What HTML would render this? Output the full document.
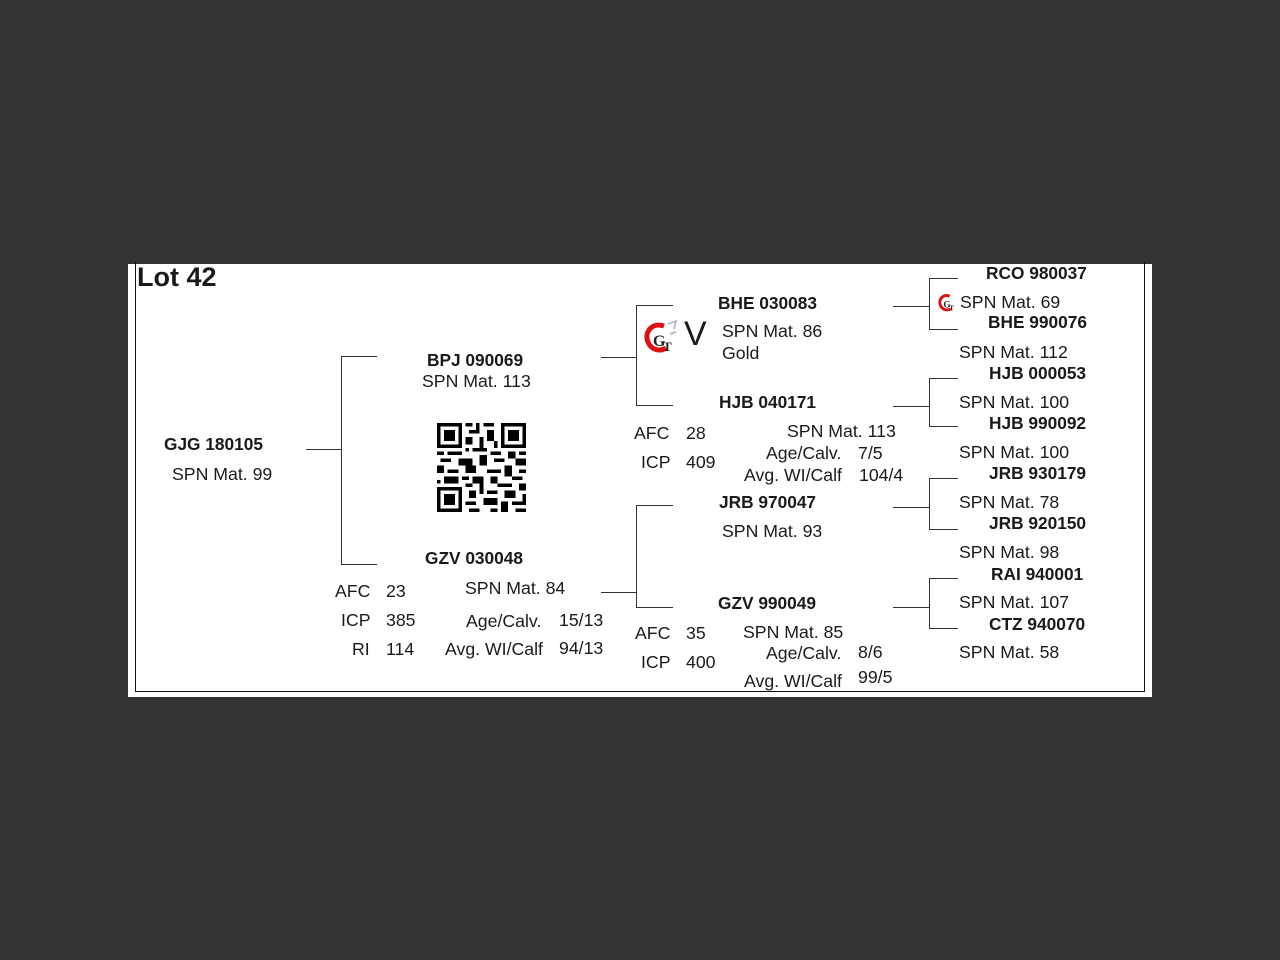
<!DOCTYPE html>
<html><head><meta charset="utf-8"><style>
body{margin:0;width:1280px;height:960px;background:#333;position:relative;overflow:hidden;font-family:"Liberation Sans",Arial,sans-serif;color:#1a1a1a}
#panel{position:absolute;left:128px;top:264px;width:1024px;height:433px;background:#fff}
#frame{position:absolute;left:135px;top:262px;width:1008px;height:429px;border:1px solid #111;border-top:none}
.t{position:absolute;font-size:17.7px;line-height:22px;white-space:nowrap;margin-top:0px}
.b{font-weight:bold;font-size:17.3px}
.h{position:absolute;height:1px;background:#333}
.v{position:absolute;width:1px;background:#333}
</style></head><body>
<div id="panel"></div><div id="frame"></div>
<div class="t b" style="left:137px;top:262px;font-size:27px;line-height:30px">Lot 42</div>

<div class="h" style="left:306px;top:449px;width:35px"></div>
<div class="v" style="left:341px;top:356px;height:208px"></div>
<div class="h" style="left:341px;top:356px;width:36px"></div>
<div class="h" style="left:341px;top:564px;width:36px"></div>

<div class="h" style="left:601px;top:357px;width:35px"></div>
<div class="v" style="left:636px;top:305px;height:100px"></div>
<div class="h" style="left:636px;top:305px;width:37px"></div>
<div class="h" style="left:636px;top:405px;width:37px"></div>

<div class="h" style="left:601px;top:592px;width:35px"></div>
<div class="v" style="left:636px;top:505px;height:102px"></div>
<div class="h" style="left:636px;top:505px;width:37px"></div>
<div class="h" style="left:636px;top:607px;width:37px"></div>

<div class="h" style="left:893px;top:306px;width:36px"></div>
<div class="v" style="left:929px;top:278px;height:51px"></div>
<div class="h" style="left:929px;top:278px;width:29px"></div>
<div class="h" style="left:929px;top:329px;width:29px"></div>

<div class="h" style="left:893px;top:406px;width:36px"></div>
<div class="v" style="left:929px;top:378px;height:48px"></div>
<div class="h" style="left:929px;top:378px;width:29px"></div>
<div class="h" style="left:929px;top:426px;width:29px"></div>

<div class="h" style="left:893px;top:507px;width:36px"></div>
<div class="v" style="left:929px;top:478px;height:51px"></div>
<div class="h" style="left:929px;top:478px;width:29px"></div>
<div class="h" style="left:929px;top:529px;width:29px"></div>

<div class="h" style="left:893px;top:607px;width:36px"></div>
<div class="v" style="left:929px;top:578px;height:50px"></div>
<div class="h" style="left:929px;top:578px;width:29px"></div>
<div class="h" style="left:929px;top:628px;width:29px"></div>

<div class="t b" style="left:164px;top:433px">GJG 180105</div>
<div class="t" style="left:172px;top:463px">SPN Mat. 99</div>

<div class="t b" style="left:427px;top:349px">BPJ 090069</div>
<div class="t" style="left:422px;top:370px">SPN Mat. 113</div>
<svg style="position:absolute;left:437px;top:423px" width="89" height="89" viewBox="0 0 25 25" shape-rendering="crispEdges">
<g fill="#000"><path d="M0 0h7v7h-7zM18 0h7v7h-7zM0 18h7v7h-7z"/></g>
<g fill="#fff"><path d="M1 1h5v5h-5zM19 1h5v5h-5zM1 19h5v5h-5z"/></g>
<g fill="#000"><path d="M2 2h3v3h-3zM20 2h3v3h-3zM2 20h3v3h-3z"/>
<path d="M8 0h2v1h-2zM11 0h1v2h-1zM13 0h3v1h-3zM9 2h3v1h-3zM14 2h2v3h-2zM8 4h2v2h-2zM12 4h1v3h-1zM16 5h1v2h-1zM8 7h1v1h-1zM10 7h4v1h-4z
M0 8h2v1h-2zM3 8h4v1h-4zM15 8h3v1h-3zM20 8h2v2h-2zM23 8h2v1h-2zM1 10h3v1h-3zM6 10h4v2h-4zM12 9h2v3h-2zM16 10h3v1h-3zM22 10h3v2h-3z
M0 12h2v2h-2zM3 13h3v1h-3zM8 12h3v2h-3zM14 13h4v1h-4zM19 12h2v3h-2zM23 13h2v1h-2zM2 15h4v2h-4zM7 15h2v1h-2zM10 15h3v2h-3zM15 15h2v2h-2zM21 15h3v1h-3z
M0 16h1v1h-1zM8 17h2v1h-2zM12 17h1v3h-1zM17 17h4v1h-4zM23 17h2v2h-2zM9 19h2v2h-2zM14 19h3v1h-3zM19 19h3v2h-3zM8 22h3v1h-3zM13 21h4v2h-4zM18 22h2v3h-2zM21 22h4v1h-4zM9 24h3v1h-3zM15 24h2v1h-2zM22 24h3v1h-3zM24 20h1v2h-1z"/></g>
</svg>
<div class="t b" style="left:425px;top:547px">GZV 030048</div>
<div class="t" style="left:465px;top:577px">SPN Mat. 84</div>
<div class="t" style="left:335px;top:580px">AFC</div><div class="t" style="left:386px;top:580px">23</div>
<div class="t" style="left:341px;top:609px">ICP</div><div class="t" style="left:386px;top:609px">385</div>
<div class="t" style="left:352px;top:638px">RI</div><div class="t" style="left:386px;top:638px">114</div>
<div class="t" style="left:466px;top:610px">Age/Calv.</div><div class="t" style="left:559px;top:609px">15/13</div>
<div class="t" style="left:445px;top:638px">Avg. WI/Calf</div><div class="t" style="left:559px;top:637px">94/13</div>

<svg style="position:absolute;left:642px;top:320px" width="38" height="36" viewBox="0 0 38 36">
<path d="M22 6 C10 2 2 12 6 22 C9 30 18 32 24 28" fill="none" stroke="#d11" stroke-width="5"/>
<path d="M26 4 l8 -3 l-2 8 M28 14 l6 -2" stroke="#bbc" stroke-width="2" fill="none"/>
<text x="11" y="26" font-family="Liberation Serif,serif" font-size="16" font-weight="bold" fill="#222">G</text>
<text x="21" y="31" font-family="Liberation Serif,serif" font-size="13" font-weight="bold" fill="#222">T</text>
</svg>
<div class="t" style="left:684px;top:316px;font-size:34px;line-height:36px">V</div>
<div class="t b" style="left:718px;top:292px">BHE 030083</div>
<div class="t" style="left:722px;top:320px">SPN Mat. 86</div>
<div class="t" style="left:722px;top:342px">Gold</div>

<div class="t b" style="left:719px;top:391px">HJB 040171</div>
<div class="t" style="left:634px;top:422px">AFC</div><div class="t" style="left:686px;top:422px">28</div>
<div class="t" style="left:641px;top:451px">ICP</div><div class="t" style="left:686px;top:451px">409</div>
<div class="t" style="left:787px;top:420px">SPN Mat. 113</div>
<div class="t" style="left:766px;top:442px">Age/Calv.</div><div class="t" style="left:858px;top:442px">7/5</div>
<div class="t" style="left:744px;top:464px">Avg. WI/Calf</div><div class="t" style="left:859px;top:464px">104/4</div>

<div class="t b" style="left:719px;top:491px">JRB 970047</div>
<div class="t" style="left:722px;top:520px">SPN Mat. 93</div>

<div class="t b" style="left:718px;top:592px">GZV 990049</div>
<div class="t" style="left:635px;top:622px">AFC</div><div class="t" style="left:686px;top:622px">35</div>
<div class="t" style="left:641px;top:651px">ICP</div><div class="t" style="left:686px;top:651px">400</div>
<div class="t" style="left:743px;top:621px">SPN Mat. 85</div>
<div class="t" style="left:766px;top:642px">Age/Calv.</div><div class="t" style="left:858px;top:641px">8/6</div>
<div class="t" style="left:744px;top:670px">Avg. WI/Calf</div><div class="t" style="left:858px;top:666px">99/5</div>

<svg style="position:absolute;left:937px;top:292px" width="22" height="22" viewBox="0 0 38 36">
<path d="M22 6 C10 2 2 12 6 22 C9 30 18 32 24 28" fill="none" stroke="#d11" stroke-width="5"/>
<text x="11" y="26" font-family="Liberation Serif,serif" font-size="16" font-weight="bold" fill="#222">G</text>
<text x="21" y="31" font-family="Liberation Serif,serif" font-size="13" font-weight="bold" fill="#222">T</text>
</svg>
<div class="t b" style="left:986px;top:262px">RCO 980037</div>
<div class="t" style="left:960px;top:291px">SPN Mat. 69</div>
<div class="t b" style="left:988px;top:311px">BHE 990076</div>
<div class="t" style="left:959px;top:341px">SPN Mat. 112</div>
<div class="t b" style="left:989px;top:362px">HJB 000053</div>
<div class="t" style="left:959px;top:391px">SPN Mat. 100</div>
<div class="t b" style="left:989px;top:412px">HJB 990092</div>
<div class="t" style="left:959px;top:441px">SPN Mat. 100</div>
<div class="t b" style="left:989px;top:462px">JRB 930179</div>
<div class="t" style="left:959px;top:491px">SPN Mat. 78</div>
<div class="t b" style="left:989px;top:512px">JRB 920150</div>
<div class="t" style="left:959px;top:541px">SPN Mat. 98</div>
<div class="t b" style="left:991px;top:563px">RAI 940001</div>
<div class="t" style="left:959px;top:591px">SPN Mat. 107</div>
<div class="t b" style="left:989px;top:613px">CTZ 940070</div>
<div class="t" style="left:959px;top:641px">SPN Mat. 58</div>
</body></html>
